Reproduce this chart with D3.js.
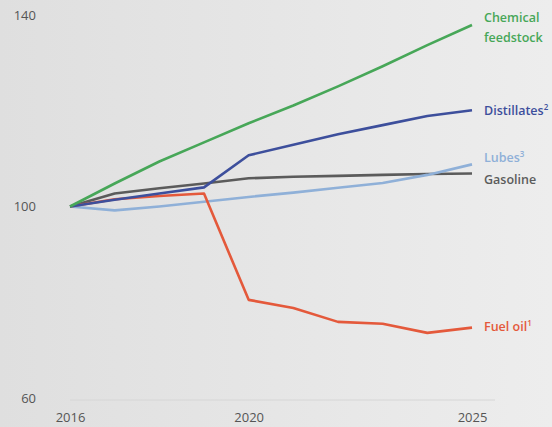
<!DOCTYPE html>
<html>
<head>
<meta charset="utf-8">
<script src="https://cdn.jsdelivr.net/npm/d3@7"></script>
<style>
  body { margin: 0; }
  #chart svg { display: block; }
</style>
</head>
<body>
<div id="chart"></div>
<script>
let width = 552,
height = 427;

// index, 2016 = 100
let years = [2016, 2017, 2018, 2019, 2020, 2021, 2022, 2023, 2024, 2025];
let chemical = [100, 104.8, 109.4, 113.4, 117.4, 121.1, 125.1, 129.3, 133.7, 137.9];
let distillates = [100, 101.4, 102.7, 104.0, 110.7, 112.9, 115.1, 117.0, 118.9, 120.1];
let gasoline = [100, 102.7, 103.8, 104.8, 105.9, 106.2, 106.4, 106.6, 106.8, 106.9];
let lubes = [100, 99.2, 100.0, 101.0, 102.0, 102.9, 103.9, 104.9, 106.6, 108.8];
let fuelOil = [100, 101.5, 102.2, 102.7, 80.5, 78.8, 75.9, 75.5, 73.6, 74.7];

let yTicks = [60, 100, 140];
let xTicks = [2016, 2020, 2025];

let series = [
  { name: "Gasoline", sup: "", values: gasoline, color: "#5b5b5b", label: ["Gasoline"], ly: 180 },
  { name: "Lubes", sup: "3", values: lubes, color: "#8fb0d8", label: ["Lubes"], ly: 158 },
  { name: "Fuel oil", sup: "1", values: fuelOil, color: "#e4593b", label: ["Fuel oil"], ly: 327 },
  { name: "Distillates", sup: "2", values: distillates, color: "#3d4f9c", label: ["Distillates"], ly: 111 },
  { name: "Chemical feedstock", sup: "", values: chemical, color: "#47a758", label: ["Chemical", "feedstock"], ly: 18 }
];

let svg = d3.select("#chart").append("svg")
.attr("width", width)
.attr("height", height);

let grad = svg.append("defs").append("linearGradient")
.attr("id", "bg")
.attr("x1", "0%").attr("x2", "100%");
grad.append("stop").attr("offset", "0%").attr("stop-color", "#dfdfdf");
grad.append("stop").attr("offset", "100%").attr("stop-color", "#ededed");

svg.append("rect")
.attr("width", width)
.attr("height", height)
.attr("fill", "url(#bg)");

let x = d3.scaleLinear()
.domain([2016, 2025])
.range([70, 472]);

let y = d3.scaleLinear()
.domain([60, 140])
.range([398, 15]);

// faint baseline
svg.append("line")
.attr("x1", x(2016)).attr("x2", 495)
.attr("y1", y(60) + 2).attr("y2", y(60) + 2)
.attr("stroke", "#d6d6d6")
.attr("stroke-width", 1);

let yAxis = svg.append("g")
.attr("transform", "translate(36,0)")
.call(d3.axisLeft(y).tickValues(yTicks).tickSize(0).tickPadding(0));
yAxis.select(".domain").remove();
yAxis.selectAll("text")
.attr("font-family", "'Open Sans', sans-serif")
.attr("font-size", 13)
.attr("fill", "#555");

let xAxis = svg.append("g")
.attr("transform", "translate(0,413)")
.call(d3.axisBottom(x).tickValues(xTicks).tickFormat(d3.format("d")).tickSize(0).tickPadding(0));
xAxis.select(".domain").remove();
xAxis.selectAll("text")
.attr("font-family", "'Open Sans', sans-serif")
.attr("font-size", 13)
.attr("fill", "#555");

let line = d3.line()
.x((d, i) => x(years[i]))
.y(d => y(d));

svg.selectAll(".series")
.data(series)
.enter()
.append("path")
.attr("class", "series")
.attr("d", d => line(d.values))
.attr("fill", "none")
.attr("stroke", d => d.color)
.attr("stroke-width", 2.6)
.attr("stroke-linejoin", "round");

let labels = svg.selectAll(".lbl")
.data(series)
.enter()
.append("text")
.attr("class", "lbl")
.attr("x", 484)
.attr("y", d => d.ly)
.attr("font-family", "'Open Sans', sans-serif")
.attr("font-weight", 600)
.attr("font-size", 12.5)
.attr("fill", d => d.color);

labels.each(function(d) {
  let t = d3.select(this);
  d.label.forEach((l, i) => {
    t.append("tspan").attr("x", 484).attr("dy", i == 0 ? "0.35em" : "1.55em").text(l);
  });
  if (d.sup) {
    t.append("tspan")
    .attr("font-size", 8)
    .attr("baseline-shift", "super")
    .text(d.sup);
  }
});
</script>
</body>
</html>
